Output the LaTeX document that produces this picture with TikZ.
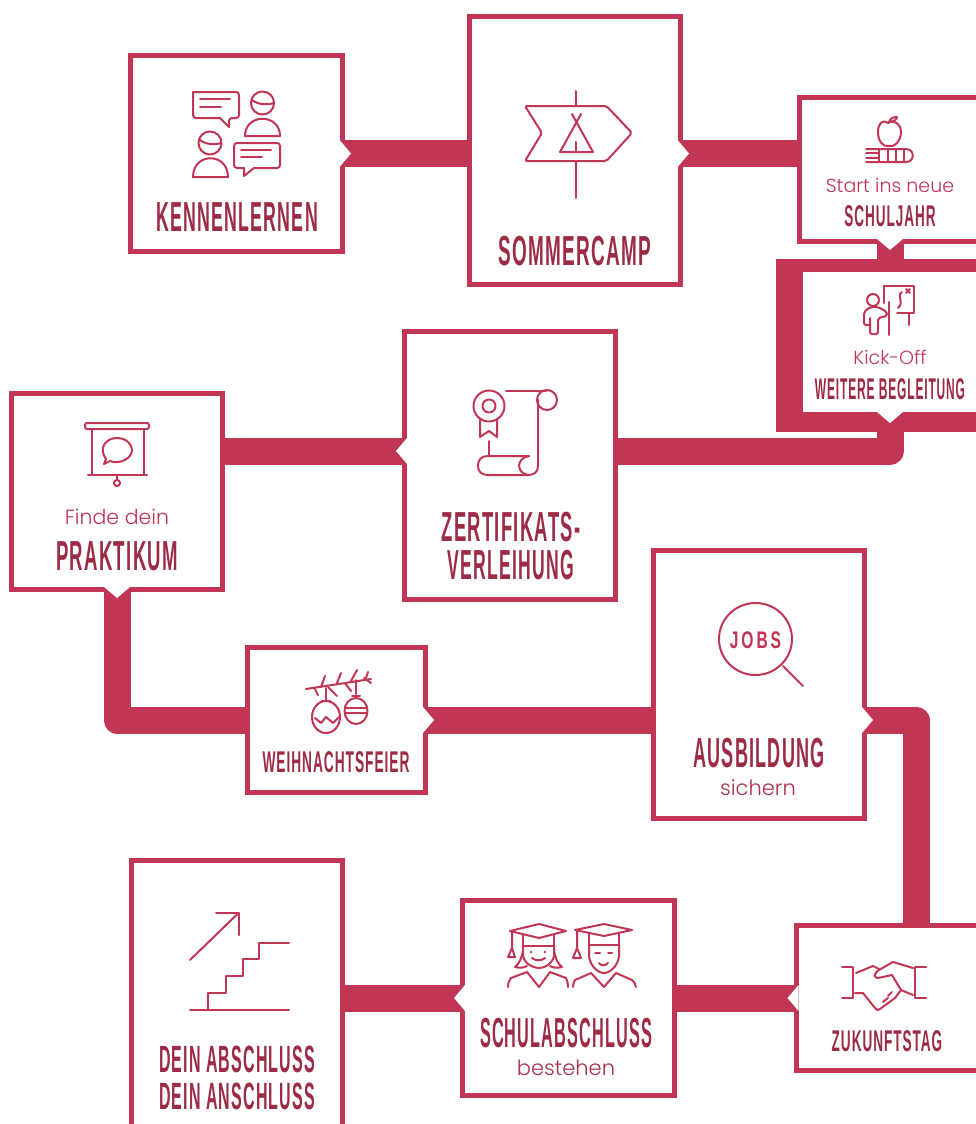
\documentclass[tikz,border=0pt]{standalone}
\usepackage{fontspec}
\usetikzlibrary{calc, backgrounds}

\newfontfamily\headfont[FakeStretch=0.43, LetterSpace=3]{Liberation Sans}
\newfontfamily\jobsfont[FakeStretch=0.65, LetterSpace=12]{Liberation Sans}
\newfontfamily\subfont[UprightFont=* Light]{Poppins}
\definecolor{flowred}{HTML}{C13555}
\definecolor{headred}{HTML}{9C2B45}
\definecolor{subred}{HTML}{A8304D}

% white tip where the line leaves a box
\newcommand{\notch}[2]{\fill[white, shift={(#1)}, rotate=#2] (-5,-13) -- (6,0) -- (-5,13) -- cycle;}
% widen or narrow one label
\newcommand{\fitx}[2]{\scalebox{#1}[1]{#2}}

\begin{document}
\begin{tikzpicture}[x=1pt, y=-1pt]
	\tikzstyle{box} = [draw=flowred, fill=white, line width=5pt, rectangle, inner sep=0pt]
	\tikzstyle{flow} = [draw=flowred, line width=27pt, line join=round]
	\tikzstyle{icon} = [draw=flowred, line width=2pt, line cap=round, line join=round]
	\tikzstyle{bighead} = [text=headred, inner sep=0pt, font=\headfont\bfseries\fontsize{42}{42}\selectfont]
	\tikzstyle{midhead} = [text=headred, inner sep=0pt, font=\headfont\bfseries\fontsize{38}{38}\selectfont]
	\tikzstyle{smallhead} = [text=headred, inner sep=0pt, font=\headfont\bfseries\fontsize{30}{30}\selectfont]
	\tikzstyle{sublabel} = [text=flowred, inner sep=0pt, font=\subfont\fontsize{19}{19}\selectfont]
	\tikzstyle{sublabeldark} = [text=subred, inner sep=0pt, font=\subfont\fontsize{21}{21}\selectfont]

	\useasboundingbox (0,0) rectangle (975,1124);

	% boxes
	\node[box, minimum width=212, minimum height=195] (kennen) at (236.5,153.5) {};
	\node[box, minimum width=211, minimum height=268] (sommer) at (575,150.5) {};
	\node[box, minimum width=181, minimum height=144] (schuljahr) at (890,169.5) {};
	\node[fill=flowred, inner sep=0pt, minimum width=228, minimum height=173] (frame) at (890,345.5) {};
	\node[box, minimum width=179, minimum height=145] (weiter) at (890,342) {};
	\node[box, minimum width=211, minimum height=268] (zert) at (510,465.5) {};
	\node[box, minimum width=211, minimum height=196] (prakt) at (117,491.5) {};
	\node[box, minimum width=178, minimum height=145] (weih) at (336.5,720) {};
	\node[box, minimum width=211, minimum height=268] (ausb) at (759,684.5) {};
	\node[box, minimum width=211, minimum height=281] (dein) at (237,1001) {};
	\node[box, minimum width=212, minimum height=195] (schul) at (568.5,998) {};
	\node[box, minimum width=182, minimum height=145] (zuk) at (887,998) {};

	\coordinate (bendzert) at (890,451);
	\coordinate (bendzuk) at (916,720);

	% lines run under the boxes
	\begin{scope}[on background layer]
		\draw[flow] (kennen.east) -- (kennen.east -| sommer.west);
		\draw[flow] (sommer.east |- kennen.east) -- (schuljahr.west |- kennen.east);
		\draw[flow] (schuljahr.south) -- (frame.north);
		\draw[flow] (frame.south) -- (bendzert) -- (bendzert -| zert.east);
		\draw[flow] (zert.west |- bendzert) -- (bendzert -| prakt.east);
		\draw[flow] (prakt.south) |- (weih.west);
		\draw[flow] (weih.east) -- (weih.east -| ausb.west);
		\draw[flow] (ausb.east |- bendzuk) -- (bendzuk) -- (bendzuk |- zuk.north);
		\draw[flow] (zuk.west) -- (zuk.west -| schul.east);
		\draw[flow] (schul.west) -- (schul.west -| dein.east);
	\end{scope}

	\notch{kennen.east}{0}
	\notch{sommer.east |- kennen.east}{0}
	\notch{schuljahr.south}{-90}
	\notch{weiter.south}{-90}
	\notch{zert.west |- bendzert}{180}
	\notch{prakt.south}{-90}
	\notch{weih.east}{0}
	\notch{ausb.east |- bendzuk}{0}
	\notch{zuk.west}{180}
	\notch{schul.west}{180}

	% labels
	\node[bighead] (kennenlabel) at (237,217) {\fitx{0.985}{KENNENLERNEN}};
	\node[bighead] (sommerlabel) at (575,251) {\fitx{1.05}{SOMMERCAMP}};
	\node[sublabel] (startlabel) at (890,185) {Start ins neue};
	\node[smallhead] (schuljahrlabel) at (890,216) {\fitx{1.05}{SCHULJAHR}};
	\node[sublabel] (kicklabel) at (890,357) {Kick-Off};
	\node[smallhead] (weiterlabel) at (890,389) {\fitx{0.93}{WEITERE BEGLEITUNG}};
	\node[sublabel, font=\subfont\fontsize{20.5}{20.5}\selectfont] (findelabel) at (117,517) {Finde dein};
	\node[bighead] (praktlabel) at (117,556) {\fitx{1.03}{PRAKTIKUM}};
	\node[bighead] (zertlabel) at (511,527) {\fitx{1.02}{ZERTIFIKATS-}};
	\node[bighead] (verleihlabel) at (511,565) {\fitx{0.975}{VERLEIHUNG}};
	\node[smallhead] (weihlabel) at (336,762) {\fitx{1.065}{WEIHNACHTSFEIER}};
	\node[bighead] (ausblabel) at (759,753) {AUSBILDUNG};
	\node[sublabeldark] (sichernlabel) at (758,788) {sichern};
	\node[midhead] (abschlusslabel) at (237,1059) {\fitx{0.98}{DEIN ABSCHLUSS}};
	\node[midhead] (anschlusslabel) at (237,1096) {\fitx{0.98}{DEIN ANSCHLUSS}};
	\node[bighead] (schullabel) at (566,1033) {\fitx{0.9}{SCHULABSCHLUSS}};
	\node[sublabeldark] (bestehenlabel) at (566,1068) {bestehen};
	\node[smallhead] (zuklabel) at (887,1041) {\fitx{1.055}{ZUKUNFTSTAG}};

	% two people talking
	\draw[icon, rounded corners=3] (193,92) -- (239,92) -- (239,118) -- (229,118) -- (229,127);
	\draw[icon] (229,127) -- (220,118);
	\draw[icon, rounded corners=3] (220,118) -- (193,118) -- (193,92);
	\draw[icon] (200,99) -- (230,99) (200,107) -- (221,107);
	\draw[icon] (262.5,103) circle[radius=11.5];
	\draw[icon] (252,100) .. controls (258,105) and (268,105) .. (274,103);
	\draw[icon] (245,136) .. controls (245,113) and (280,113) .. (280,136) -- cycle;
	\draw[icon] (210,143) circle[radius=11.5];
	\draw[icon] (199,139) .. controls (205,145) and (215,145) .. (221,143);
	\draw[icon] (193,177) .. controls (193,152) and (228,152) .. (228,177) -- cycle;
	\draw[icon, rounded corners=3] (244,168) -- (234,168) -- (234,143) -- (280,143) -- (280,168) -- (254,168);
	\draw[icon] (254,168) -- (244,176) -- (244,168);
	\draw[icon] (241,150) -- (271,150) (241,157) -- (262,157);

	% tent on a sign
	\draw[icon] (576,91) -- (576,106) (576,161) -- (576,198);
	\draw[icon, rounded corners=2] (525,106) -- (606.5,106) -- (632,133) -- (606.5,161) -- (525,161) -- (542,133) -- cycle;
	\draw[icon] (581,114) -- (560,152) -- (593,152) -- (572,114);
	\draw[icon] (576,142) -- (576,152);

	% apple on a book
	\draw[icon] (888,123) .. controls (882,119) and (878,124) .. (878,132) .. controls (878,141) and (883,147) .. (888,146) .. controls (894,148) and (901,141) .. (901,132) .. controls (901,124) and (894,119) .. (888,123);
	\draw[icon] (889,122) .. controls (890,118) and (894,117) .. (897,117) .. controls (897,120) and (893,122) .. (889,122);
	\draw[icon] (866,149) -- (906,149) .. controls (915,149) and (915,162) .. (906,162) -- (866,162);
	\draw[icon] (866,153) -- (878,153) (866,158) -- (878,158);
	\draw[icon] (879,149) -- (879,162) (888,149) -- (888,162) (896,149) -- (896,162) (904,149) -- (904,162);

	% teacher at a board
	\draw[icon] (884,303) -- (884,286) -- (914,286) -- (914,313) -- (897,313);
	\draw[icon] (909,313) -- (909,325);
	\draw[icon] (902,292) .. controls (896,296) and (905,302) .. (898,308);
	\draw[icon] (906,289) -- (910,293) (910,289) -- (906,293);
	\draw[icon] (889,302) -- (889,335);
	\draw[icon] (873,300) circle[radius=6];
	\draw[icon, rounded corners=2] (870,325) -- (864,325) -- (864,312) -- (870,307) -- (878,307) -- (887,312) -- (887,316) -- (878,318) -- (878,334) -- (870,334) -- (870,318);

	% screen with a bubble
	\draw[icon, rounded corners=2] (85,423) rectangle (149,429);
	\draw[icon] (92,429) -- (92,474) (144,429) -- (144,474);
	\draw[icon] (88,475) -- (147,475);
	\draw[icon] (117,475) -- (117,480);
	\draw[icon] (117,483) circle[radius=3];
	\draw[icon] (106,459) .. controls (98,448) and (106,438) .. (117,438) .. controls (127,438) and (132,445) .. (132,450) .. controls (132,458) and (120,465) .. (110,461) -- (104,464) -- cycle;

	% diploma
	\draw[icon] (489,406) circle[radius=15.5];
	\draw[icon] (489,406) circle[radius=6.5];
	\draw[icon] (480,419) -- (480,437) -- (489,431) -- (497,437) -- (497,419);
	\draw[icon] (506,391) -- (546,391);
	\draw[icon] (547,400) circle[radius=10];
	\draw[icon] (538,400) -- (538,466) .. controls (538,472) and (534,475) .. (528,475) -- (488,475) .. controls (481,475) and (478,471) .. (478,466) .. controls (478,460) and (481,456) .. (488,456) -- (529,456);
	\draw[icon] (529,456) .. controls (516,458) and (516,473) .. (528,475);
	\draw[icon] (489,441) -- (489,456);

	% branch with baubles
	\draw[icon] (306,689) -- (371,679);
	\draw[icon] (321,687) -- (325,676) (337,683) -- (341,673) (351,681) -- (357,670) (366,678) -- (368,672);
	\draw[icon] (315,689) -- (318,695) (328,687) -- (337,696) (345,683) -- (351,691) (364,678) -- (371,683);
	\draw[icon] (326,688) -- (326,700);
	\draw[icon] (326,717) ellipse[x radius=14, y radius=16];
	\draw[icon] (322,701) -- (330,701);
	\draw[icon] (315,718) -- (321,723) -- (326,717) -- (333,723) -- (339,717);
	\draw[icon] (356,680) -- (356,694);
	\draw[icon] (356,711) ellipse[x radius=11.5, y radius=13];
	\draw[icon] (352,696) -- (360,696);
	\draw[icon] (345,708) -- (367,708) (345,713) -- (367,713);

	% magnifier
	\draw[icon] (755.5,639) ellipse[x radius=36.5, y radius=36];
	\draw[icon] (783,666) -- (803,686);
	\node[text=flowred, inner sep=0pt, font=\jobsfont\bfseries\fontsize{24}{24}\selectfont] (jobslabel) at (755.5,640) {JOBS};

	% stairs
	\draw[icon] (190,960) -- (238.5,913);
	\draw[icon] (216,913) -- (238.5,913) -- (238.5,935);
	\draw[icon] (190,1010) -- (289,1010);
	\draw[icon] (208,1010) -- (208,993) -- (226,993) -- (226,976) -- (243,976) -- (243,959) -- (259,959) -- (259,943) -- (289,943);

	% two graduates
	\draw[icon] (510,931) -- (539,924) -- (566,931) -- (539,938) -- cycle;
	\draw[icon] (523,935) -- (523,946) -- (554,946) -- (554,935);
	\draw[icon] (512,932) -- (512,948) -- (515,957) -- (508,957) -- (512,948);
	\draw[icon] (523,946) -- (523,956) .. controls (525,964) and (533,968) .. (539,968) .. controls (545,968) and (552,964) .. (554,956) -- (554,946);
	\draw[icon] (523,950) .. controls (522,958) and (519,964) .. (515,967) .. controls (519,968) and (524,968) .. (527,966);
	\draw[icon] (554,950) .. controls (555,958) and (558,964) .. (562,967) .. controls (558,968) and (553,968) .. (550,966);
	\draw[icon] (532,958) .. controls (535,961) and (542,961) .. (545,958);
	\fill[flowred] (531,952) circle[radius=1.3] (545,952) circle[radius=1.3];
	\draw[icon] (508,987) .. controls (508,983) and (509,980) .. (511,978) -- (527,972) -- (539,987) -- (550,972) -- (566,978) .. controls (567,980) and (568,983) .. (568,987);
	\draw[icon] (575,930) -- (604,924) -- (632,930) -- (604,936) -- cycle;
	\draw[icon] (589,933) -- (589,945) -- (619,945) -- (619,933);
	\draw[icon] (577,931) -- (577,948) -- (581,958) -- (573,958) -- (577,948);
	\draw[icon] (589,945) -- (589,956) .. controls (590,966) and (598,973) .. (604,973) .. controls (610,973) and (618,966) .. (619,956) -- (619,945);
	\draw[icon] (595,953) -- (600,953) (608,953) -- (612,953);
	\draw[icon] (599,963) .. controls (601,966) and (605,966) .. (608,963);
	\draw[icon] (573,987) .. controls (573,984) and (574,982) .. (575,980) -- (591,973) -- (604,987) -- (616,973) -- (632,980) .. controls (634,982) and (636,984) .. (636,987);

	% handshake
	\draw[icon] (842,967) -- (853,967) -- (853,998) -- (842,998);
	\draw[icon] (926,967) -- (915,967) -- (915,998) -- (926,998);
	\draw[icon] (856,973) -- (873,966) -- (879,969);
	\draw[icon] (913,968) -- (893,962) -- (879,970) .. controls (873,974) and (874,978) .. (878,978) -- (892,975) -- (901,990) -- (895,998) -- (880,1009) .. controls (878,1011) and (877,1010) .. (875,1008) -- (863,993) -- (855,993);
	\draw[icon] (913,995) -- (901,990);
	\draw[icon] (883,1002) -- (888,998) (888,996) -- (892,992);
\end{tikzpicture}
\end{document}
